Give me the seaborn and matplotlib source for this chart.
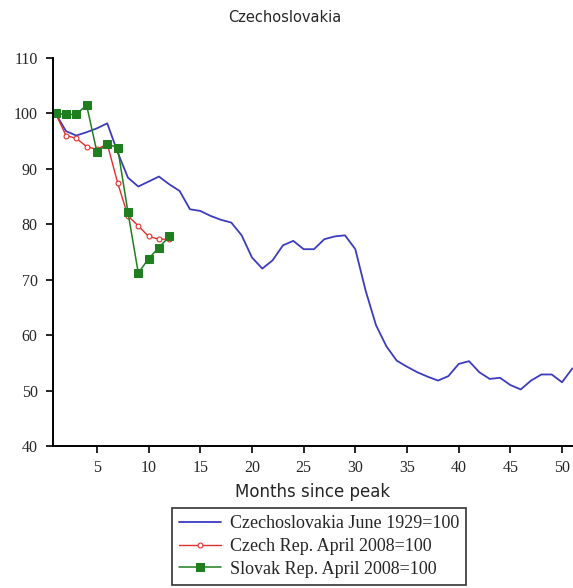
import numpy as np
import pandas as pd
import matplotlib
matplotlib.use("Agg")
import matplotlib.pyplot as plt
import seaborn as sns

title = "Czechoslovakia"
xlabel = "Months since peak"

months_cs = list(range(1, 52))
czechoslovakia = [100, 96.8, 96, 96.6, 97.3, 98.2, 93, 88.4, 86.8, 87.7,
                  88.6, 87.2, 86, 82.7, 82.4, 81.5, 80.8, 80.3, 78, 74,
                  72, 73.5, 76.2, 77, 75.5, 75.5, 77.3, 77.8, 78, 75.5,
                  68, 61.8, 58, 55.4, 54.3, 53.3, 52.5, 51.8, 52.6, 54.8,
                  55.3, 53.3, 52.1, 52.3, 51, 50.2, 51.8, 52.9, 52.9, 51.5,
                  54]
months_08 = list(range(1, 13))
czech_rep = [100, 96, 95.5, 94, 93.5, 94.5, 87.5, 81.5, 79.7, 77.8, 77.3, 77.3]
slovak_rep = [100, 99.8, 99.8, 101.5, 93, 94.5, 93.8, 82.2, 71.2, 73.8, 75.8, 77.8]

labels = ["Czechoslovakia June 1929=100", "Czech Rep. April 2008=100", "Slovak Rep. April 2008=100"]
colors = ["#3c3cc0", "#e0302c", "#1f7f1f"]

xticks = [5, 10, 15, 20, 25, 30, 35, 40, 45, 50]
yticks = [40, 50, 60, 70, 80, 90, 100, 110]

sns.set_style("white")
plt.rcParams['font.family'] = ['DejaVu Sans']
serif = "Liberation Serif"

fig = plt.figure(figsize=(5.73, 5.88), dpi=100)
ax = fig.add_axes([0.0925, 0.2415, 0.9075, 0.66])

df_cs = pd.DataFrame({"month": months_cs, "value": czechoslovakia})
df_cz = pd.DataFrame({"month": months_08, "value": czech_rep})
df_sk = pd.DataFrame({"month": months_08, "value": slovak_rep})

sns.lineplot(data=df_cs, x="month", y="value", ax=ax, color=colors[0], lw=1.3, label=labels[0])
sns.lineplot(data=df_cz, x="month", y="value", ax=ax, color=colors[1], lw=1.0, marker="o",
             markersize=3.5, markerfacecolor="white", markeredgecolor=colors[1], markeredgewidth=0.8,
             label=labels[1])
sns.lineplot(data=df_sk, x="month", y="value", ax=ax, color=colors[2], lw=1.1, marker="s",
             markersize=5.5, markerfacecolor=colors[2], markeredgecolor=colors[2], label=labels[2])

ax.set_xlim(0.75, 51.06)
ax.set_ylim(40, 110)
ax.set_xticks(xticks)
ax.set_yticks(yticks)
ax.tick_params(axis="both", direction="out", length=5, width=1.2, color="black",
               bottom=True, left=True)
ax.tick_params(axis="x", pad=5)
ax.tick_params(axis="y", pad=6)
for lab in ax.get_xticklabels() + ax.get_yticklabels():
    lab.set_fontfamily(serif)
    lab.set_fontsize(11.5)
for s in ["top", "right"]:
    ax.spines[s].set_visible(False)
for s in ["left", "bottom"]:
    ax.spines[s].set_color("black")
    ax.spines[s].set_linewidth(1.4)
ax.set_xlabel(xlabel, fontsize=12, labelpad=5)
ax.set_ylabel("")
fig.suptitle(title, x=0.497, y=1 - 17 / 588, va="center", fontsize=10.5)

ax.legend_.remove()
handles, lbls = ax.get_legend_handles_labels()
leg = fig.legend(handles, lbls, loc="upper center", bbox_to_anchor=(0.557, 1 - 508 / 588),
                 borderaxespad=0, frameon=True, fancybox=False, edgecolor="black",
                 handlelength=2.3, handletextpad=0.5, borderpad=0.4, labelspacing=0.32,
                 prop={"family": serif, "size": 13})
leg.get_frame().set_linewidth(1.2)

fig.savefig("out.png", dpi=100)
